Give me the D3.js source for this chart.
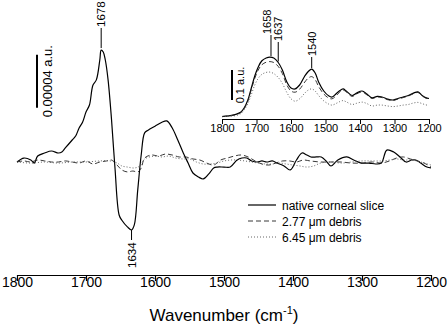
<!DOCTYPE html>
<html>
<head>
<meta charset="utf-8">
<script src="https://cdn.jsdelivr.net/npm/d3@7"></script>
<style>
  body { margin: 0; background: #fff; }
  svg text { font-family: "Liberation Sans", Arial, sans-serif; fill: #000; }
</style>
</head>
<body>
<div id="main"></div>
<script>
// difference spectra (units of 1e-5 a.u.)
const nativeDiff = [
  [1800, 0], [1790, 0.3], [1780, 0.15], [1775, -0.08], [1770, 0.45], [1760, 0.68],
  [1750, 0.83], [1740, 0.68], [1735, 0.75], [1730, 1.06], [1720, 1.66], [1715, 1.96],
  [1710, 2.57], [1705, 3.0], [1700, 3.77], [1695, 4.3], [1690, 5.8], [1685, 6.2],
  [1680, 7.7], [1678, 8.45], [1675, 8.3], [1672, 7.7], [1668, 6.2], [1663, 3.2],
  [1658, -0.45], [1652, -4.0], [1648, -4.4], [1640, -4.9], [1634, -5.13], [1630, -4.75],
  [1625, -2.1], [1620, 0.53], [1615, 2.2], [1610, 2.4], [1600, 2.7], [1590, 3.0],
  [1583, 3.1], [1575, 2.57], [1567, 1.66], [1559, 0.68], [1552, -0.08], [1545, -0.83],
  [1537, -1.13], [1530, -1.28], [1522, -0.9], [1515, -0.45], [1510, -0.38], [1500, -0.38],
  [1491, -0.38], [1481, 0.15], [1474, 0.3], [1467, 0.3], [1460, 0.08], [1452, 0],
  [1445, 0.08], [1438, 0], [1430, 0.08], [1423, -0.08], [1413, -0.3], [1404, -0.6],
  [1395, 0.15], [1387, 0.68], [1380, 0.53], [1374, 0.38], [1366, 0.38], [1359, 0.38],
  [1352, 0.08], [1345, -0.3], [1335, 0.15], [1322, 0.38], [1312, 0.15], [1301, -0.08],
  [1290, -0.08], [1280, -0.15], [1272, -0.08], [1264, 0.9], [1254, 0.75], [1245, 0.38],
  [1236, 0], [1228, 0.15], [1222, 0.15], [1215, -0.08], [1206, -0.38], [1200, -0.45]
];
const debris277Diff = [
  [1800, 0], [1790, 0.08], [1780, 0], [1770, 0.15], [1760, 0.08], [1750, 0],
  [1740, 0], [1730, 0.08], [1720, 0], [1710, -0.08], [1700, 0.08], [1690, -0.15],
  [1680, 0], [1670, 0.08], [1663, 0.15], [1655, -0.23], [1648, -0.6], [1640, -0.75],
  [1632, -0.68], [1625, -0.75], [1620, -0.45], [1615, 0.3], [1605, 0.53], [1595, 0.45],
  [1585, 0.6], [1575, 0.53], [1565, 0.38], [1555, 0.38], [1545, 0.23], [1535, 0.15],
  [1525, -0.08], [1515, -0.23], [1505, 0.15], [1495, 0.3], [1485, 0.45], [1475, 0.53],
  [1465, 0.38], [1455, 0.08], [1445, -0.15], [1435, -0.23], [1425, -0.08], [1415, 0.08],
  [1405, 0.08], [1395, 0], [1385, 0.15], [1375, 0.08], [1360, 0], [1345, 0],
  [1330, 0], [1315, -0.08], [1300, -0.08], [1285, 0], [1272, -0.08], [1260, 0.08],
  [1250, 0.3], [1240, 0.38], [1230, 0.23], [1220, 0.08], [1210, -0.08], [1200, -0.38]
];
const debris645Diff = [
  [1800, 0], [1780, -0.08], [1760, 0], [1740, -0.08], [1720, 0], [1700, 0],
  [1680, 0.08], [1665, 0.08], [1655, -0.08], [1648, -0.3], [1640, -0.38], [1630, -0.45],
  [1622, -0.3], [1615, 0.23], [1600, 0.45], [1590, 0.38], [1580, 0.45], [1570, 0.3],
  [1560, 0.23], [1550, 0.23], [1540, 0], [1530, -0.15], [1520, -0.15], [1510, -0.08],
  [1500, 0.08], [1490, 0.15], [1480, 0.15], [1470, 0.08], [1460, 0], [1450, -0.08],
  [1440, -0.15], [1430, -0.15], [1420, -0.08], [1410, -0.15], [1400, -0.23], [1390, -0.3],
  [1380, -0.38], [1370, -0.3], [1360, -0.08], [1345, 0], [1330, -0.08], [1315, 0],
  [1300, 0.08], [1285, 0.08], [1270, 0.08], [1260, 0.15], [1250, 0.23], [1240, 0.15],
  [1230, 0.15], [1220, 0.08], [1210, -0.08], [1200, -0.23]
];

// absorbance spectra for the inset (a.u.)
const insetWn = [1800, 1780, 1760, 1745, 1735, 1725, 1715, 1705, 1695, 1685, 1672, 1661,
  1650, 1637, 1625, 1612, 1600, 1588, 1575, 1560, 1550, 1540, 1530, 1520, 1505, 1490,
  1481, 1470, 1460, 1449, 1440, 1423, 1410, 1394, 1380, 1365, 1350, 1336, 1320, 1304,
  1290, 1275, 1260, 1245, 1232, 1220, 1210, 1200];
const nativeAbs = [0.005, 0.007, 0.012, 0.02, 0.035, 0.06, 0.1, 0.14, 0.17, 0.19, 0.2, 0.203,
  0.2, 0.185, 0.16, 0.12, 0.1, 0.097, 0.11, 0.14, 0.155, 0.163, 0.15, 0.12, 0.09, 0.073,
  0.07, 0.08, 0.09, 0.097, 0.09, 0.075, 0.083, 0.09, 0.08, 0.067, 0.072, 0.07, 0.063, 0.06,
  0.065, 0.07, 0.075, 0.083, 0.087, 0.075, 0.068, 0.065];
const debris277Abs = [0.005, 0.007, 0.011, 0.019, 0.033, 0.057, 0.095, 0.132, 0.16, 0.177, 0.186, 0.188,
  0.185, 0.172, 0.148, 0.11, 0.09, 0.086, 0.096, 0.12, 0.133, 0.138, 0.128, 0.105, 0.08, 0.066,
  0.064, 0.073, 0.085, 0.093, 0.087, 0.072, 0.08, 0.087, 0.077, 0.065, 0.07, 0.068, 0.061, 0.059,
  0.063, 0.068, 0.073, 0.081, 0.085, 0.074, 0.067, 0.064];
const debris645Abs = [0.004, 0.006, 0.008, 0.015, 0.028, 0.048, 0.078, 0.11, 0.132, 0.145, 0.152, 0.153,
  0.148, 0.135, 0.115, 0.085, 0.064, 0.056, 0.064, 0.083, 0.093, 0.097, 0.09, 0.075, 0.057, 0.046,
  0.043, 0.048, 0.054, 0.058, 0.054, 0.045, 0.049, 0.053, 0.048, 0.04, 0.043, 0.043, 0.04, 0.038,
  0.04, 0.043, 0.045, 0.05, 0.052, 0.048, 0.044, 0.042];

const xTicks = [1800, 1700, 1600, 1500, 1400, 1300, 1200];
const legendLabels = ["native corneal slice", "2.77 \u03bcm debris", "6.45 \u03bcm debris"];
const mainPeaks = [{wn: 1678, v: 8.45, up: true}, {wn: 1634, v: -5.13, up: false}];
const insetPeaks = [{wn: 1658, a: 0.203}, {wn: 1637, a: 0.185}, {wn: 1540, a: 0.163}];

const ctx = { WIDTH: 448, HEIGHT: 329 };
const styles = [
  { dash: null, width: 1.2, color: "#000" },
  { dash: "5,3", width: 0.9, color: "#222" },
  { dash: "1,2", width: 0.9, color: "#555" }
];
// where the inset peak labels sit: top of leader line and baseline shift
const insetLabelPos = [{top: 35, dx: 0.5}, {top: 42, dx: 3.5}, {top: 57, dx: 4.5}];

function createViz(){
    let svg = d3.select("#main").append("svg")
        .attr("width", ctx.WIDTH).attr("height", ctx.HEIGHT);

    // main difference plot
    let x = d3.scaleLinear().domain([1800, 1200]).range([17, 431]);
    let y = d3.scaleLinear().domain([-8.53, 12.23]).range([275, 0]);
    let line = d3.line().x(d => x(d[0])).y(d => y(d[1])).curve(d3.curveCatmullRom.alpha(0.5));

    [nativeDiff, debris277Diff, debris645Diff].forEach((series, i) => {
        svg.append("path").datum(series)
            .attr("d", line)
            .attr("fill", "none")
            .attr("stroke", styles[i].color)
            .attr("stroke-width", styles[i].width)
            .attr("stroke-dasharray", styles[i].dash);
    });

    let xAxis = svg.append("g").attr("transform", "translate(0,275)")
        .call(d3.axisBottom(x).tickValues(xTicks).tickFormat(d3.format("d")).tickSize(6).tickSizeOuter(0));
    xAxis.select(".domain").attr("stroke-width", 1.2);
    xAxis.selectAll(".tick line").attr("stroke-width", 1.2);
    xAxis.selectAll("text").attr("font-size", 14).attr("dy", "0.2em")
        .style("font-family", "'Liberation Sans', Arial, sans-serif");

    let title = svg.append("text").attr("x", 224).attr("y", 321)
        .attr("text-anchor", "middle").attr("font-size", 17);
    title.append("tspan").text("Wavenumber (cm");
    title.append("tspan").attr("font-size", 11).attr("dy", -7).text("-1");
    title.append("tspan").attr("dy", 7).text(")");

    // scale bar
    svg.append("line").attr("x1", 37).attr("x2", 37)
        .attr("y1", y(4.1)).attr("y2", y(8.1))
        .attr("stroke", "#000").attr("stroke-width", 2);
    svg.append("text").attr("transform", `translate(52,${(y(4.1) + y(8.1)) / 2}) rotate(-90)`)
        .attr("text-anchor", "middle").attr("font-size", 13).text("0.00004 a.u.");

    // peak labels
    mainPeaks.forEach(p => {
        let px = x(p.wn);
        if (p.up) {
            svg.append("line").attr("x1", px).attr("x2", px)
                .attr("y1", y(p.v) - 2).attr("y2", 28).attr("stroke", "#000");
            svg.append("text").attr("transform", `translate(${px + 4},27) rotate(-90)`)
                .attr("font-size", 11.5).text(p.wn);
        } else {
            svg.append("line").attr("x1", px).attr("x2", px)
                .attr("y1", y(p.v)).attr("y2", 240).attr("stroke", "#000");
            svg.append("text").attr("transform", `translate(${px + 4},268) rotate(-90)`)
                .attr("font-size", 11.5).text(p.wn);
        }
    });

    // legend
    let leg = svg.append("g");
    legendLabels.forEach((lab, i) => {
        let ly = 205 + i * 16;
        leg.append("line").attr("x1", 248).attr("x2", 276).attr("y1", ly).attr("y2", ly)
            .attr("stroke", styles[i].color).attr("stroke-width", styles[i].width)
            .attr("stroke-dasharray", styles[i].dash);
        leg.append("text").attr("x", 282).attr("y", ly + 4.5).attr("font-size", 12).text(lab);
    });

    // inset absorbance plot
    let xi = d3.scaleLinear().domain([1800, 1200]).range([222, 429]);
    let yi = d3.scaleLinear().domain([0, 0.2]).range([118, 58]);
    let lineI = d3.line().x(d => xi(d[0])).y(d => yi(d[1])).curve(d3.curveCatmullRom.alpha(0.5));
    [nativeAbs, debris277Abs, debris645Abs].forEach((vals, i) => {
        let series = insetWn.map((w, k) => [w, vals[k]]);
        svg.append("path").datum(series)
            .attr("d", lineI)
            .attr("fill", "none")
            .attr("stroke", styles[i].color)
            .attr("stroke-width", styles[i].width)
            .attr("stroke-dasharray", styles[i].dash);
    });

    let xAxisI = svg.append("g").attr("transform", "translate(0,119)")
        .call(d3.axisBottom(xi).tickValues(xTicks).tickFormat(d3.format("d")).tickSize(5).tickSizeOuter(0));
    xAxisI.selectAll("text").attr("font-size", 11).attr("dy", "0.45em")
        .style("font-family", "'Liberation Sans', Arial, sans-serif");

    svg.append("line").attr("x1", 232).attr("x2", 232)
        .attr("y1", yi(0.06)).attr("y2", yi(0.16))
        .attr("stroke", "#000").attr("stroke-width", 2);
    svg.append("text").attr("transform", `translate(244,${(yi(0.06) + yi(0.16)) / 2}) rotate(-90)`)
        .attr("text-anchor", "middle").attr("font-size", 11).text("0.1 a.u.");

    insetPeaks.forEach((p, i) => {
        let px = xi(p.wn);
        let pos = insetLabelPos[i];
        svg.append("line").attr("x1", px).attr("x2", px)
            .attr("y1", yi(p.a) - 1).attr("y2", pos.top).attr("stroke", "#000");
        svg.append("text").attr("transform", `translate(${px + pos.dx},${pos.top - 1}) rotate(-90)`)
            .attr("font-size", 11).text(p.wn);
    });
}

createViz();
</script>
</body>
</html>
